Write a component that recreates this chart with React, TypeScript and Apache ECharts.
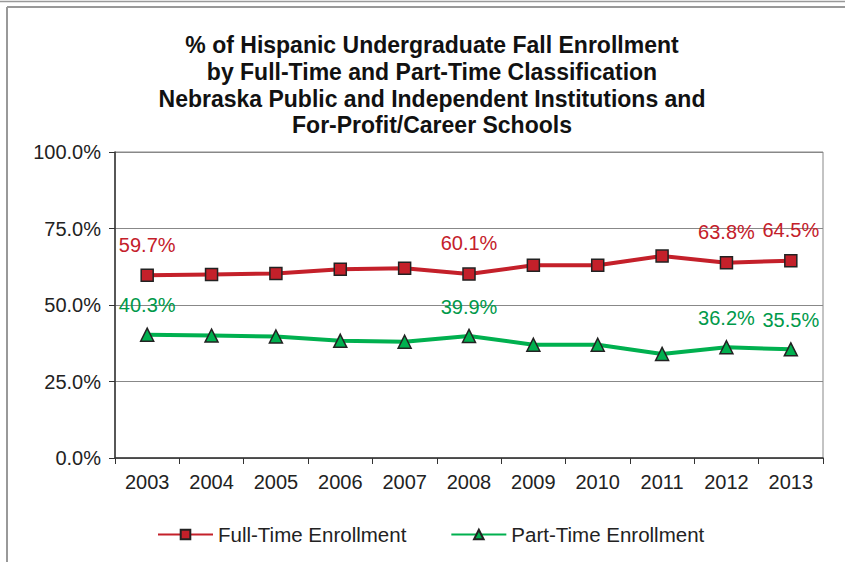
import React, { useEffect, useRef } from "react";
import * as echarts from "echarts";

const years = ["2003", "2004", "2005", "2006", "2007", "2008", "2009", "2010", "2011", "2012", "2013"];
const fullTime = [59.7, 60.0, 60.3, 61.7, 62.0, 60.1, 63.0, 63.0, 66.0, 63.8, 64.5];
const partTime = [40.3, 40.0, 39.7, 38.3, 38.0, 39.9, 37.0, 37.0, 34.0, 36.2, 35.5];
const labeledIdx = [0, 5, 9, 10];
const titleLines = [
  "% of Hispanic Undergraduate Fall Enrollment",
  "by Full-Time and Part-Time Classification",
  "Nebraska Public and Independent Institutions and",
  "For-Profit/Career Schools",
];

const FONT = "'Liberation Sans', Arial, sans-serif";
const RED = "#C4202A";
const GREEN = "#00B04F";
const GREEN_TXT = "#00994A";

export default function App() {
  const ref = useRef<HTMLDivElement>(null);
  useEffect(() => {
    if (!ref.current) return;
    const chart = echarts.init(ref.current, undefined, { renderer: "svg" });
    const mk = (vals: number[]) =>
      vals.map((v, i) => ({
        value: v,
        label: { show: labeledIdx.includes(i) },
      }));
    chart.setOption({
      animation: false,
      backgroundColor: "#fff",
      title: {
        text: titleLines.join("\n"),
        left: 427,
        textAlign: "center",
        top: 27,
        textStyle: {
          fontFamily: FONT,
          fontSize: 23,
          fontWeight: "bold",
          color: "#111",
          lineHeight: 26.7,
        },
      },
      graphic: [
        { type: "line", shape: { x1: 0, y1: 1.5, x2: 845, y2: 1.5 }, style: { stroke: "#999", lineWidth: 1.5 } },
        { type: "line", shape: { x1: 7, y1: 7, x2: 845, y2: 7 }, style: { stroke: "#999", lineWidth: 2 } },
        { type: "line", shape: { x1: 7, y1: 7, x2: 7, y2: 562 }, style: { stroke: "#999", lineWidth: 2 } },
      ],
      grid: {
        left: 115,
        right: 22,
        top: 152,
        bottom: 104,
        show: true,
        borderColor: "#888",
        borderWidth: 1,
        containLabel: false,
      },
      legend: {
        left: 157,
        top: 524,
        padding: 0,
        itemWidth: 55,
        itemHeight: 12,
        itemGap: 44,
        textStyle: { fontFamily: FONT, fontSize: 20.5, color: "#222" },
        data: ["Full-Time Enrollment", "Part-Time Enrollment"],
      },
      xAxis: {
        type: "category",
        data: years,
        boundaryGap: true,
        axisLine: { lineStyle: { color: "#333", width: 1.5 } },
        axisTick: { show: true, length: 6, lineStyle: { color: "#333" } },
        axisLabel: { fontFamily: FONT, fontSize: 20, color: "#222", margin: 14 },
      },
      yAxis: {
        type: "value",
        min: 0,
        max: 100,
        interval: 25,
        axisLine: { show: true, lineStyle: { color: "#333", width: 1.5 } },
        axisTick: { show: true, length: 6, lineStyle: { color: "#333" } },
        axisLabel: {
          fontFamily: FONT,
          fontSize: 20,
          color: "#222",
          margin: 14,
          formatter: (v: number) => v.toFixed(1) + "%",
        },
        splitLine: { lineStyle: { color: "#888", width: 1 } },
      },
      series: [
        {
          name: "Full-Time Enrollment",
          type: "line",
          data: mk(fullTime),
          symbol: "rect",
          symbolSize: 12,
          lineStyle: { color: RED, width: 4 },
          itemStyle: { color: RED, borderColor: "#222", borderWidth: 1.5 },
          label: {
            position: "top",
            distance: 14,
            fontFamily: FONT,
            fontSize: 20,
            color: RED,
            formatter: (p: any) => p.value.toFixed(1) + "%",
          },
        },
        {
          name: "Part-Time Enrollment",
          type: "line",
          data: mk(partTime),
          symbol: "triangle",
          symbolSize: 13,
          lineStyle: { color: GREEN, width: 4 },
          itemStyle: { color: GREEN, borderColor: "#222", borderWidth: 1.5 },
          label: {
            position: "top",
            distance: 12,
            fontFamily: FONT,
            fontSize: 20,
            color: GREEN_TXT,
            formatter: (p: any) => p.value.toFixed(1) + "%",
          },
        },
      ],
    });
    return () => chart.dispose();
  }, []);
  return <div ref={ref} style={{ width: 845, height: 562, position: "absolute", left: 0, top: 0 }} />;
}
